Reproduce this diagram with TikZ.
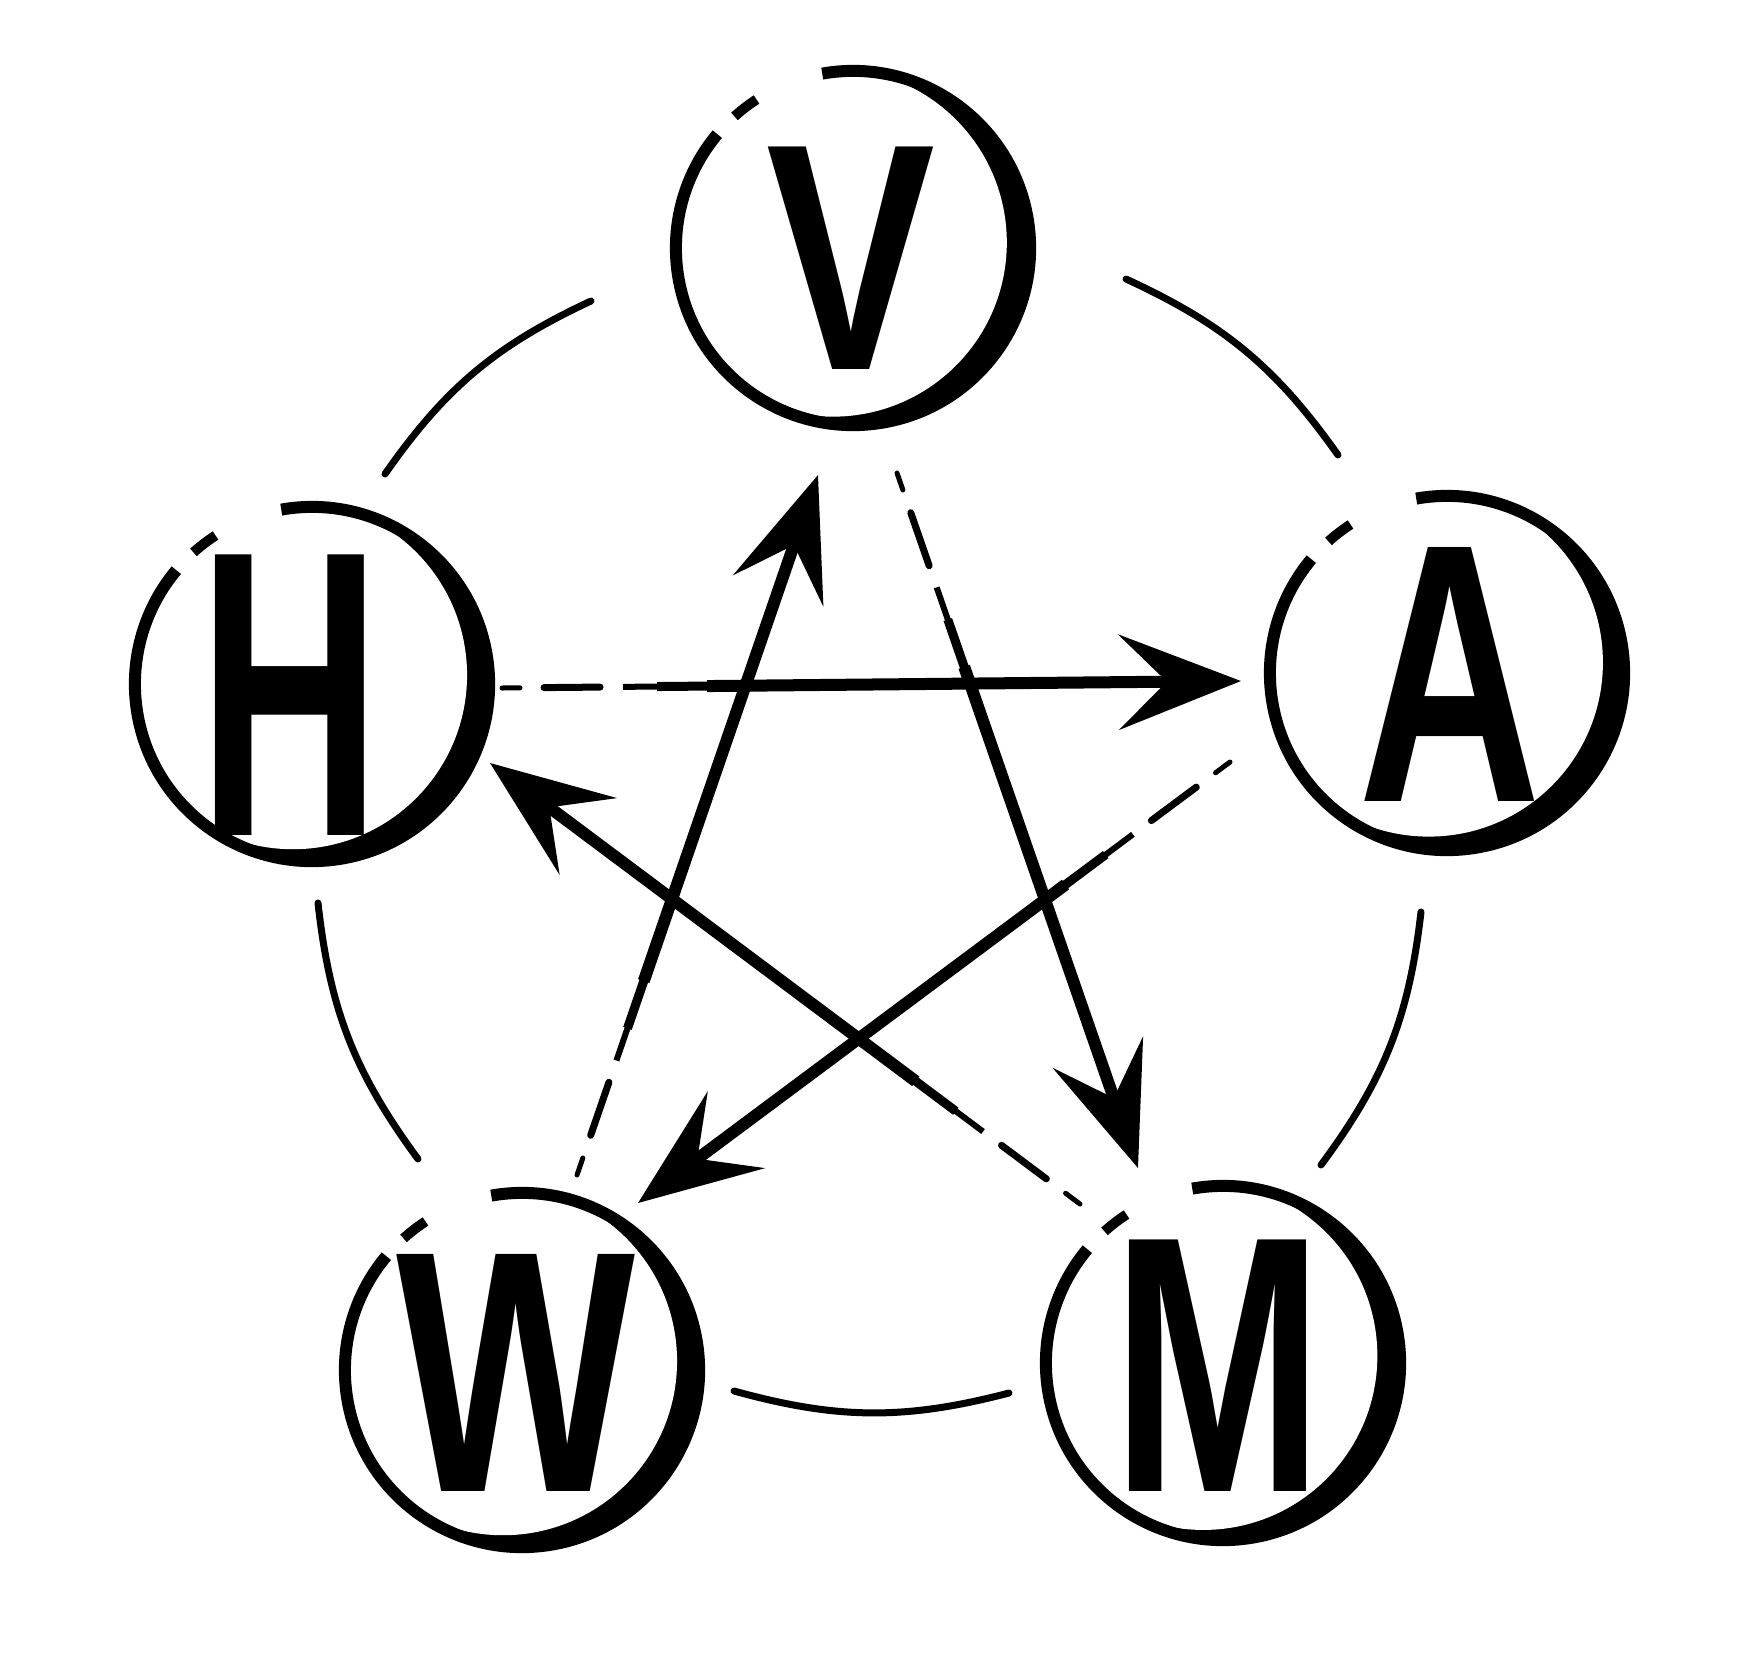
\documentclass[tikz,border=0pt]{standalone}
\usepackage{fontspec}
\usepackage{graphicx}
\newfontfamily\brushfont[FakeStretch=0.72]{Liberation Sans}
\usetikzlibrary{arrows.meta,calc}
\tikzset{
  letter/.style={inner sep=0pt, font=\brushfont\bfseries\fontsize{100}{100}\selectfont},
  rim/.style={line width=0.12cm},
  frag/.style={line width=0.10cm},
  outerarc/.style={line width=0.07cm, line cap=round},
  dashone/.style={line width=0.05cm, line cap=round},
  dashtwo/.style={line width=0.07cm, line cap=round},
  shaftA/.style={line width=0.06cm},
  shaftB/.style={line width=0.09cm},
  shaft/.style={line width=0.12cm, -{Stealth[length=1.22cm,width=0.95cm,inset=0.48cm]}},
}
\newcommand\brushring[2]{%
  \fill (#1) circle (1.80cm);
  \fill[white] ($(#1)+({#2+180}:0.21cm)$) circle (1.74cm);
  \draw[rim] ($(#1)+(100:1.77cm)$) arc[start angle=100,end angle=-220,radius=1.77cm];
  \draw[frag] ($(#1)+(132:1.77cm)$) arc[start angle=132,end angle=123,radius=1.77cm];
}
\newcommand\brusharrow[2]{%
  \draw[dashone] (#1) -- ($(#1)!0.18cm!(#2)$);
  \draw[dashtwo] ($(#1)!0.42cm!(#2)$) -- ($(#1)!0.98cm!(#2)$);
  \draw[shaftA] ($(#1)!1.21cm!(#2)$) -- ($(#1)!1.60cm!(#2)$);
  \draw[shaftB] ($(#1)!1.55cm!(#2)$) -- ($(#1)!2.10cm!(#2)$);
  \draw[shaft] ($(#1)!2.05cm!(#2)$) -- (#2);
}
\begin{document}
\begin{tikzpicture}[x=0.01cm,y=-0.01cm]
\useasboundingbox[fill=white] (0,0) rectangle (1748,1660);
% ring centres
\coordinate (cV) at (853,248);
\coordinate (cA) at (1447,673);
\coordinate (cM) at (1223,1363);
\coordinate (cW) at (522,1370);
\coordinate (cH) at (312,684);
% brush rings
\brushring{cV}{-15}
\brushring{cA}{-30}
\brushring{cM}{-20}
\brushring{cW}{-25}
\brushring{cH}{-25}
% letters
\node[letter] (V) at (851,258) {\scalebox{1}[0.92]{V}};
\node[letter] (A) at (1450,674) {\scalebox{1}[1.05]{A}};
\node[letter] (M) at (1218,1366) {\scalebox{1}[1.04]{M}};
\node[letter] (W) at (516,1373) {\scalebox{1}[0.98]{W}};
\node[letter] (H) at (290,695) {\scalebox{1}[1.16]{H}};
% outer arcs
\coordinate (va1) at (1126,279);  \coordinate (va2) at (1338,455);
\coordinate (am1) at (1421,912);  \coordinate (am2) at (1321,1165);
\coordinate (mw1) at (1009,1393); \coordinate (mw2) at (734,1391);
\coordinate (wh1) at (418,1159);  \coordinate (wh2) at (318,903);
\coordinate (hv1) at (385,474);   \coordinate (hv2) at (591,301);
\draw[outerarc] (va1) to[bend left=15] (va2);
\draw[outerarc] (am1) to[bend left=15] (am2);
\draw[outerarc] (mw1) to[bend left=15] (mw2);
\draw[outerarc] (wh1) to[bend left=15] (wh2);
\draw[outerarc] (hv1) to[bend left=15] (hv2);
% star arrows
\coordinate (HtoA0) at (502,688);  \coordinate (HtoA1) at (1241,681);
\coordinate (VtoM0) at (897,473);  \coordinate (VtoM1) at (1138,1168);
\coordinate (AtoW0) at (1230,762); \coordinate (AtoW1) at (638,1203);
\coordinate (MtoH0) at (1080,1204);\coordinate (MtoH1) at (490,763);
\coordinate (WtoV0) at (577,1175); \coordinate (WtoV1) at (818,475);
\brusharrow{HtoA0}{HtoA1}
\brusharrow{VtoM0}{VtoM1}
\brusharrow{AtoW0}{AtoW1}
\brusharrow{MtoH0}{MtoH1}
\brusharrow{WtoV0}{WtoV1}
\end{tikzpicture}
\end{document}
